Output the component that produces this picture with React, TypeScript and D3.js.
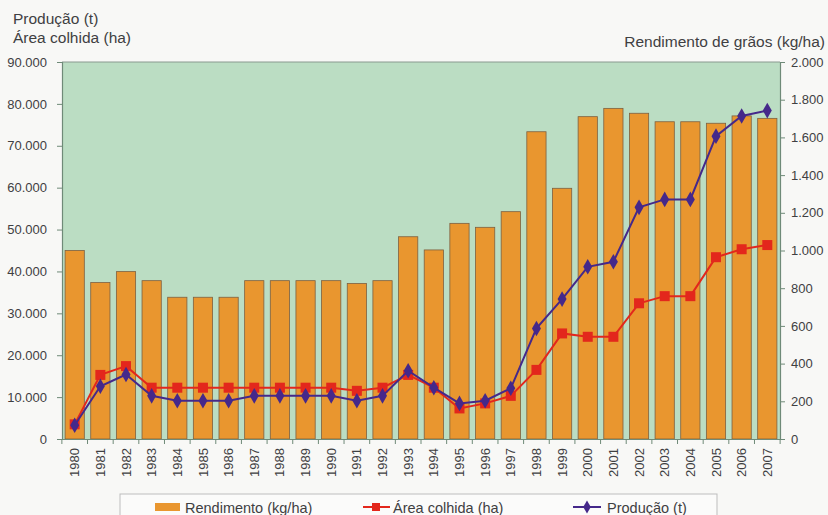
import React, { useEffect, useRef } from "react";
import * as d3 from "d3";

const years = [
  "1980", "1981", "1982", "1983", "1984", "1985", "1986", "1987", "1988", "1989",
  "1990", "1991", "1992", "1993", "1994", "1995", "1996", "1997", "1998", "1999",
  "2000", "2001", "2002", "2003", "2004", "2005", "2006", "2007",
];

// Rendimento de grãos (kg/ha) - right axis
const rendimento = [
  1000, 830, 888, 840, 752, 752, 752, 840, 840, 840,
  840, 825, 840, 1073, 1003, 1144, 1123, 1206, 1630, 1330,
  1710, 1754, 1728, 1683, 1683, 1675, 1714, 1701,
];

// Área colhida (ha) - left axis
const areaColhida = [
  3500, 15300, 17400, 12250, 12250, 12250, 12250, 12250, 12250, 12250,
  12250, 11500, 12250, 15300, 12250, 7300, 8500, 10300, 16500, 25200,
  24400, 24400, 32400, 34100, 34100, 43400, 45300, 46300,
];

// Produção (t) - left axis
const producao = [
  3300, 12600, 15400, 10300, 9150, 9150, 9150, 10300, 10300, 10300,
  10300, 9150, 10300, 16300, 12250, 8500, 9150, 12100, 26400, 33400,
  41100, 42300, 55300, 57200, 57200, 72300, 77100, 78400,
];

const leftTicks = [0, 10000, 20000, 30000, 40000, 50000, 60000, 70000, 80000, 90000];
const rightTicks = [0, 200, 400, 600, 800, 1000, 1200, 1400, 1600, 1800, 2000];

const W = 828;
const H = 515;
const margin = { top: 62, right: 48, bottom: 76, left: 62 };
const FONT = "'Liberation Sans', Arial, sans-serif";
const TEXT = "#3f4042";
const ORANGE = "#e9962f";
const RED = "#e3271c";
const PURPLE = "#45288a";
const BG = "#bbddc3";
const AXIS = "#6f8a78";

const fmt = (v: number) => d3.format(",")(v).replace(/,/g, ".");

export default function App() {
  const ref = useRef<SVGSVGElement>(null);

  useEffect(() => {
    const root = d3.select(ref.current);
    root.selectAll("*").remove();

    const width = W - margin.left - margin.right;
    const height = H - margin.top - margin.bottom;

    const x = d3.scaleBand().domain(years).range([0, width]).paddingInner(0.25).paddingOuter(0.12);
    const yL = d3.scaleLinear().domain([0, 90000]).range([height, 0]);
    const yR = d3.scaleLinear().domain([0, 2000]).range([height, 0]);

    root.append("rect").attr("width", W).attr("height", H).attr("fill", "#f8f8f6");

    const g = root.append("g").attr("transform", `translate(${margin.left},${margin.top})`);

    g.append("rect").attr("width", width).attr("height", height).attr("fill", BG);
    g.append("line").attr("x1", 0).attr("x2", width).attr("y1", 0).attr("y2", 0)
      .attr("stroke", "#8a9a90").attr("stroke-width", 1.2);

    // bars
    g.append("g")
      .selectAll("rect")
      .data(rendimento)
      .enter()
      .append("rect")
      .attr("x", (d, i) => x(years[i])!)
      .attr("y", (d) => yR(d))
      .attr("width", x.bandwidth())
      .attr("height", (d) => height - yR(d))
      .attr("fill", ORANGE)
      .attr("stroke", "#7d6040")
      .attr("stroke-width", 0.8);

    const cx = (i: number) => x(years[i])! + x.bandwidth() / 2;

    // Área colhida
    const lineA = d3.line<number>().x((d, i) => cx(i)).y((d) => yL(d));
    g.append("path").datum(areaColhida).attr("d", lineA).attr("fill", "none")
      .attr("stroke", RED).attr("stroke-width", 2);
    g.append("g").selectAll("rect").data(areaColhida).enter().append("rect")
      .attr("x", (d, i) => cx(i) - 5).attr("y", (d) => yL(d) - 5)
      .attr("width", 10).attr("height", 10).attr("fill", RED);

    // Produção
    const lineP = d3.line<number>().x((d, i) => cx(i)).y((d) => yL(d));
    g.append("path").datum(producao).attr("d", lineP).attr("fill", "none")
      .attr("stroke", PURPLE).attr("stroke-width", 2);
    g.append("g").selectAll("path").data(producao).enter().append("path")
      .attr("d", d3.symbol(d3.symbolDiamond, 70))
      .attr("transform", (d, i) => `translate(${cx(i)},${yL(d)})`)
      .attr("fill", PURPLE);

    // left axis
    const axL = g.append("g").call(d3.axisLeft(yL).tickValues(leftTicks).tickFormat((d) => fmt(d as number)).tickSize(5).tickPadding(10));
    // right axis
    const axR = g.append("g").attr("transform", `translate(${width},0)`)
      .call(d3.axisRight(yR).tickValues(rightTicks).tickFormat((d) => fmt(d as number)).tickSize(5).tickPadding(6));
    // bottom axis, ticks on band boundaries
    const axB = g.append("g").attr("transform", `translate(0,${height})`)
      .call(d3.axisBottom(x).tickSize(0).tickPadding(8));
    axB.selectAll("text")
      .attr("transform", "rotate(-90)")
      .attr("text-anchor", "end")
      .attr("dy", "0.35em")
      .attr("x", -9)
      .attr("y", 0);
    const step = x.step();
    const x0 = x(years[0])! - (x.paddingInner() * step) / 2;
    axB.append("g").selectAll("line")
      .data(d3.range(years.length + 1))
      .enter().append("line")
      .attr("x1", (i) => x0 + i * step)
      .attr("x2", (i) => x0 + i * step)
      .attr("y1", 0).attr("y2", 5)
      .attr("stroke", AXIS);

    [axL, axR, axB].forEach((a) => {
      a.selectAll("path").attr("stroke", AXIS).attr("stroke-width", 1.2);
      a.selectAll(".tick line").attr("stroke", AXIS);
      a.selectAll("text").attr("fill", TEXT).style("font-family", FONT).style("font-size", "13px");
    });

    // axis titles
    const titles = root.append("g").style("font-family", FONT).style("font-size", "15.5px").attr("fill", TEXT);
    titles.append("text").attr("x", 13).attr("y", 24).text("Produção (t)");
    titles.append("text").attr("x", 13).attr("y", 43).text("Área colhida (ha)");
    titles.append("text").attr("x", 825).attr("y", 47).attr("text-anchor", "end").text("Rendimento de grãos (kg/ha)");

    // legend
    const lg = root.append("g").style("font-family", FONT).style("font-size", "14.5px").attr("fill", TEXT);
    lg.append("rect").attr("x", 120).attr("y", 494).attr("width", 597).attr("height", 40)
      .attr("fill", "#fbfbfa").attr("stroke", "#bdbdbd");
    lg.append("rect").attr("x", 155).attr("y", 503).attr("width", 25).attr("height", 8).attr("fill", ORANGE);
    lg.append("text").attr("x", 185).attr("y", 513).text("Rendimento  (kg/ha)");
    lg.append("line").attr("x1", 363).attr("x2", 390).attr("y1", 507).attr("y2", 507).attr("stroke", RED).attr("stroke-width", 2);
    lg.append("rect").attr("x", 372).attr("y", 503).attr("width", 8).attr("height", 8).attr("fill", RED);
    lg.append("text").attr("x", 393).attr("y", 513).text("Área colhida (ha)");
    lg.append("line").attr("x1", 573).attr("x2", 601).attr("y1", 507).attr("y2", 507).attr("stroke", PURPLE).attr("stroke-width", 2);
    lg.append("path").attr("d", d3.symbol(d3.symbolDiamond, 50)).attr("transform", "translate(587,507)").attr("fill", PURPLE);
    lg.append("text").attr("x", 607).attr("y", 513).text("Produção (t)");
  }, []);

  return (
    <svg
      ref={ref}
      width={W}
      height={H}
      style={{ position: "absolute", left: 0, top: 0, display: "block" }}
    />
  );
}
